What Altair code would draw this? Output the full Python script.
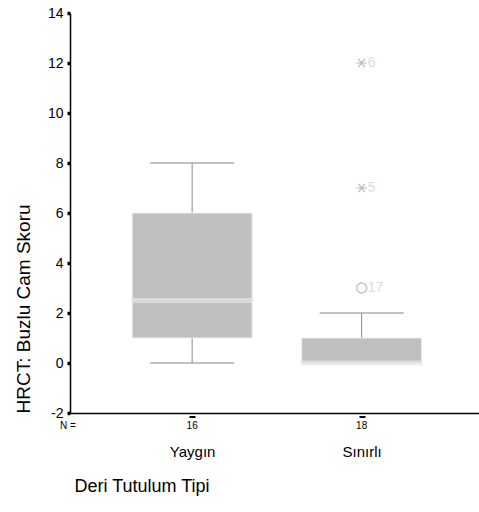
import altair as alt
import pandas as pd

categories = ["Yaygın", "Sınırlı"]
counts = [16, 18]
q1 = [1.0, 0.0]
median = [2.5, 0.0]
q3 = [6.0, 1.0]
whisker_lo = [0.0, 0.0]
whisker_hi = [8.0, 2.0]

outlier_cat = ["Sınırlı", "Sınırlı", "Sınırlı"]
outlier_val = [3.0, 7.0, 12.0]
outlier_id = ["17", "5", "6"]
outlier_kind = ["outlier", "extreme", "extreme"]

box_df = pd.DataFrame({
    "cat": categories, "n": [str(c) for c in counts], "q1": q1, "median": median,
    "q3": q3, "lo": whisker_lo, "hi": whisker_hi,
})
caps = []
for c, a, b, l, h in zip(categories, q1, q3, whisker_lo, whisker_hi):
    if h > b:
        caps.append({"cat": c, "v": h})
    if l < a:
        caps.append({"cat": c, "v": l})
cap_df = pd.DataFrame(caps)
out_df = pd.DataFrame({"cat": outlier_cat, "v": outlier_val, "id": outlier_id, "kind": outlier_kind})

x_enc = alt.X(
    "cat:N", sort=categories,
    scale=alt.Scale(type="point", padding=0.7065, align=0.51),
    axis=alt.Axis(
        title="Deri Tutulum Tipi", titleFontSize=18, titleFontWeight="normal",
        titleAnchor="start", titleAlign="left", titleX=4, titleY=73, titleBaseline="middle",
        labelFontSize=15, labelPadding=26, labelAngle=0, labelColor="black",
        tickSize=5, tickWidth=6, tickColor="black", tickDash=[0, 2.5, 2, 100],
        domainColor="black", domainWidth=1.5, grid=False,
    ),
)
y_scale = alt.Scale(domain=[-2, 14], nice=False, zero=False)
y_axis = alt.Axis(
    title="HRCT: Buzlu Cam Skoru", titleFontSize=19, titleFontWeight="normal",
    titleAngle=-90, titleAlign="left", titleBaseline="middle", titleX=-47, titleY=400,
    values=list(range(-2, 15, 2)), labelFontSize=14, labelPadding=4, labelColor="black",
    labelExpr="datum.value < 0 ? '-' + abs(datum.value) : '' + datum.value",
    tickSize=3, tickWidth=3.5, tickColor="black",
    domainColor="black", domainWidth=1.5, grid=False,
)

base = alt.Chart(box_df)

whisker = base.mark_rule(color="#8c8c8c", strokeWidth=1).encode(
    x=x_enc, y=alt.Y("lo:Q", scale=y_scale, axis=y_axis), y2="hi:Q"
)
capm = alt.Chart(cap_df).mark_tick(color="#8c8c8c", size=84, thickness=1.5).encode(
    x=alt.X("cat:N", sort=categories), y=alt.Y("v:Q")
)
box = base.mark_bar(size=120, color="#c0c0c0", stroke="#eeeeee", strokeWidth=1).encode(
    x=alt.X("cat:N", sort=categories), y=alt.Y("q1:Q"), y2="q3:Q"
)
med = base.mark_tick(size=122, thickness=5, color="#e6e6e6").encode(
    x=alt.X("cat:N", sort=categories), y=alt.Y("median:Q")
)
circ = alt.Chart(out_df).transform_filter(alt.datum.kind == "outlier").mark_point(
    shape="circle", size=100, filled=False, color="#aaaaaa", strokeWidth=1.5
).encode(x=alt.X("cat:N", sort=categories), y=alt.Y("v:Q"))
star = alt.Chart(out_df).transform_filter(alt.datum.kind == "extreme").mark_point(
    shape="M-1,0L1,0M-0.6,-0.8L0.6,0.8M-0.6,0.8L0.6,-0.8", size=110, filled=False,
    color="#a0a0a0", strokeWidth=1.2
).encode(x=alt.X("cat:N", sort=categories), y=alt.Y("v:Q"))
olab = alt.Chart(out_df).mark_text(
    align="left", baseline="middle", dx=6, fontSize=14, color="#dcdcdc"
).encode(x=alt.X("cat:N", sort=categories), y=alt.Y("v:Q"), text="id:N")

ntext = base.mark_text(fontSize=10, baseline="middle", color="black").encode(
    x=alt.X("cat:N", sort=categories), y=alt.value(413), text="n:N"
)
nlabel = alt.Chart(pd.DataFrame({"t": ["N ="]})).mark_text(
    fontSize=10, align="left", baseline="middle", color="black"
).encode(x=alt.value(-10), y=alt.value(413), text="t:N")

chart = alt.layer(whisker, capm, box, med, circ, star, olab, ntext, nlabel).properties(
    width=409, height=400,
    autosize=alt.AutoSizeParams(type="none"),
    padding={"left": 70, "top": 13, "right": 0, "bottom": 99},
).configure(font="Liberation Sans", background="white").configure_view(
    strokeWidth=0, stroke="transparent"
)

chart.save("out.html", embed_options={"renderer": "svg", "actions": False})
